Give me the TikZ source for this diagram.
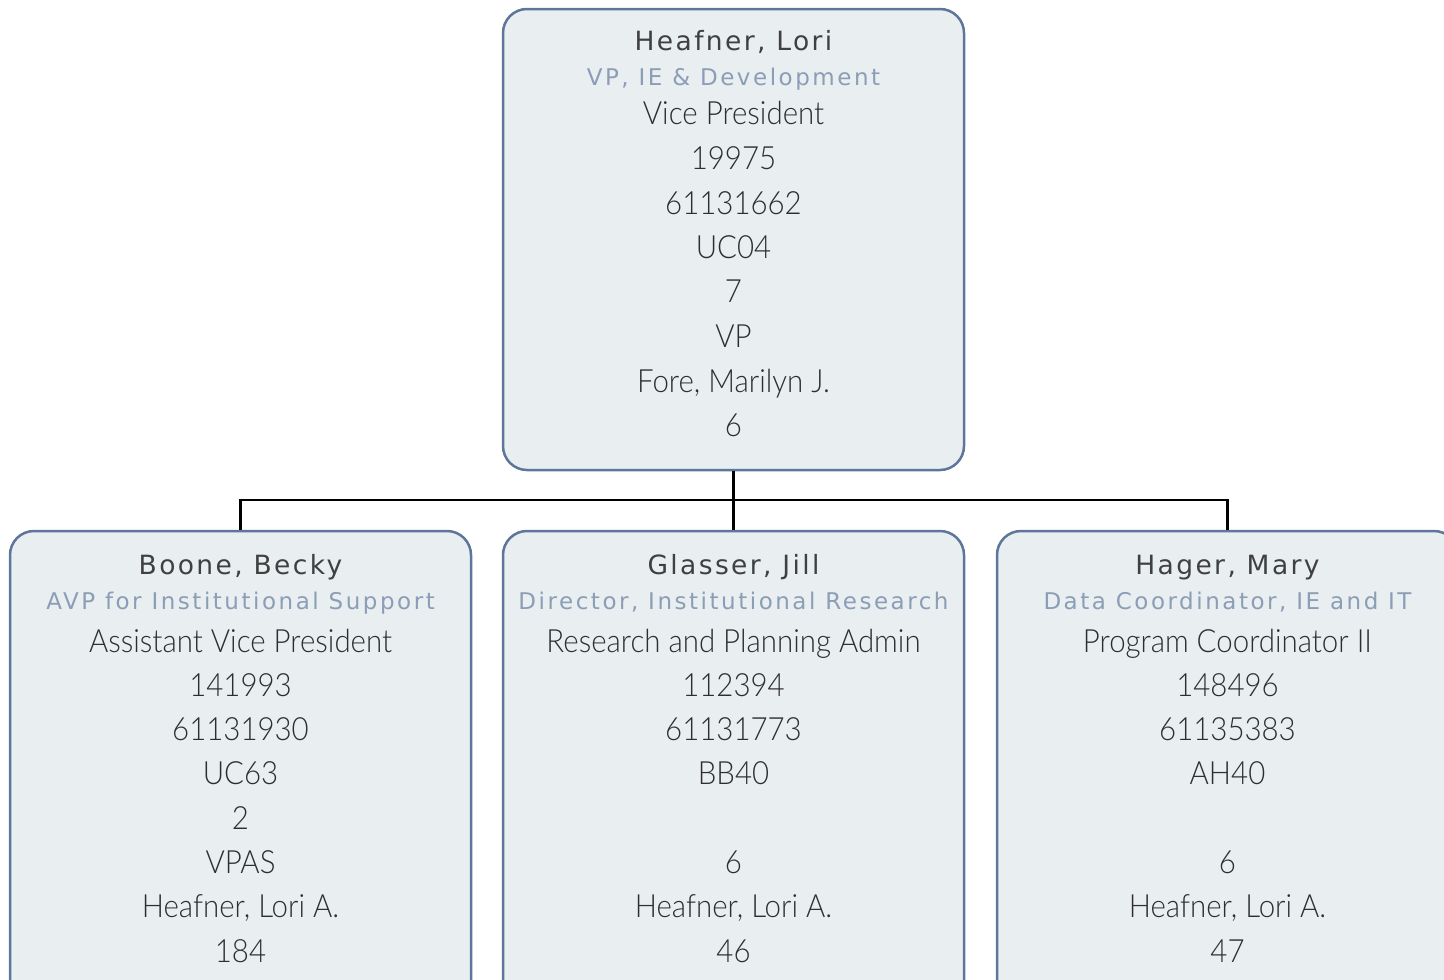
\documentclass[tikz,border=0pt]{standalone}
\usepackage{fontspec}
\setmainfont{Lato Light}[FakeStretch=0.92]
\newfontfamily\namefont{DejaVu Sans}[LetterSpace=9]
\newfontfamily\titlefont{DejaVu Sans}[LetterSpace=11]
\definecolor{boxfill}{HTML}{E9EEF1}
\definecolor{boxline}{HTML}{5E7699}
\definecolor{namecol}{HTML}{404040}
\definecolor{titlecol}{HTML}{8C9DB6}
\definecolor{detcol}{HTML}{2E2E2E}
\begin{document}
\begin{tikzpicture}[x=1pt,y=-1pt,
  box/.style={draw=boxline, fill=boxfill, line width=2.5pt, rounded corners=24pt, minimum width=461pt, inner sep=0pt},
  nm/.style={font=\namefont\fontsize{26.5}{26.5}\selectfont, text=namecol, anchor=base, yshift=-9.5pt, inner sep=0pt},
  ttl/.style={font=\titlefont\fontsize{23}{23}\selectfont, text=titlecol, anchor=base, yshift=-8.5pt, inner sep=0pt},
  det/.style={font=\fontsize{32}{32}\selectfont, text=detcol, anchor=base, yshift=-11.5pt, inner sep=0pt},
  conn/.style={draw=black, line width=2.5pt}]
\useasboundingbox (0,0) rectangle (1444,980);
\clip (0,0) rectangle (1444,980);
% boxes
\node[box, minimum height=461pt] (top) at (733.5,239.5) {};
\node[box, minimum height=480pt] (b1) at (240.5,771) {};
\node[box, minimum height=480pt] (b2) at (733.5,771) {};
\node[box, minimum height=480pt] (b3) at (1227.5,771) {};
% connectors
\coordinate (bus) at (733.5,500);
\draw[conn] (top.south) -- (bus);
\draw[conn] (b1.north) -- (b1.north |- bus) -- (b3.north |- bus) -- (b3.north);
\draw[conn] (bus) -- (b2.north);
% top box text
\node[nm] (t0) at (733.5,41) {Heafner, Lori};
\node[ttl] (t1) at (733.5,77) {VP, IE \& Development};
\node[det] (t2) at (733.5,113) {Vice President};
\node[det] (t3) at (733.5,158) {19975};
\node[det] (t4) at (733.5,203) {61131662};
\node[det] (t5) at (733.5,247) {UC04};
\node[det] (t6) at (733.5,291) {7};
\node[det] (t7) at (733.5,336) {VP};
\node[det] (t8) at (733.5,381) {Fore, Marilyn J.};
\node[det] (t9) at (733.5,425) {6};
% box 1
\node[nm] (a0) at (240.5,565) {Boone, Becky};
\node[ttl] (a1) at (240.5,601) {AVP for Institutional Support};
\node[det] (a2) at (240.5,641) {Assistant Vice President};
\node[det] (a3) at (240.5,685) {141993};
\node[det] (a4) at (240.5,729) {61131930};
\node[det] (a5) at (240.5,773) {UC63};
\node[det] (a6) at (240.5,818) {2};
\node[det] (a7) at (240.5,862) {VPAS};
\node[det] (a8) at (240.5,906) {Heafner, Lori A.};
\node[det] (a9) at (240.5,951) {184};
% box 2
\node[nm] (m0) at (733.5,565) {Glasser, Jill};
\node[ttl] (m1) at (733.5,601) {Director, Institutional Research};
\node[det] (m2) at (733.5,641) {Research and Planning Admin};
\node[det] (m3) at (733.5,685) {112394};
\node[det] (m4) at (733.5,729) {61131773};
\node[det] (m5) at (733.5,773) {BB40};
\node[det] (m7) at (733.5,862) {6};
\node[det] (m8) at (733.5,906) {Heafner, Lori A.};
\node[det] (m9) at (733.5,951) {46};
% box 3
\node[nm] (r0) at (1227.5,565) {Hager, Mary};
\node[ttl] (r1) at (1227.5,601) {Data Coordinator, IE and IT};
\node[det] (r2) at (1227.5,641) {Program Coordinator II};
\node[det] (r3) at (1227.5,685) {148496};
\node[det] (r4) at (1227.5,729) {61135383};
\node[det] (r5) at (1227.5,773) {AH40};
\node[det] (r7) at (1227.5,862) {6};
\node[det] (r8) at (1227.5,906) {Heafner, Lori A.};
\node[det] (r9) at (1227.5,951) {47};
\end{tikzpicture}
\end{document}
